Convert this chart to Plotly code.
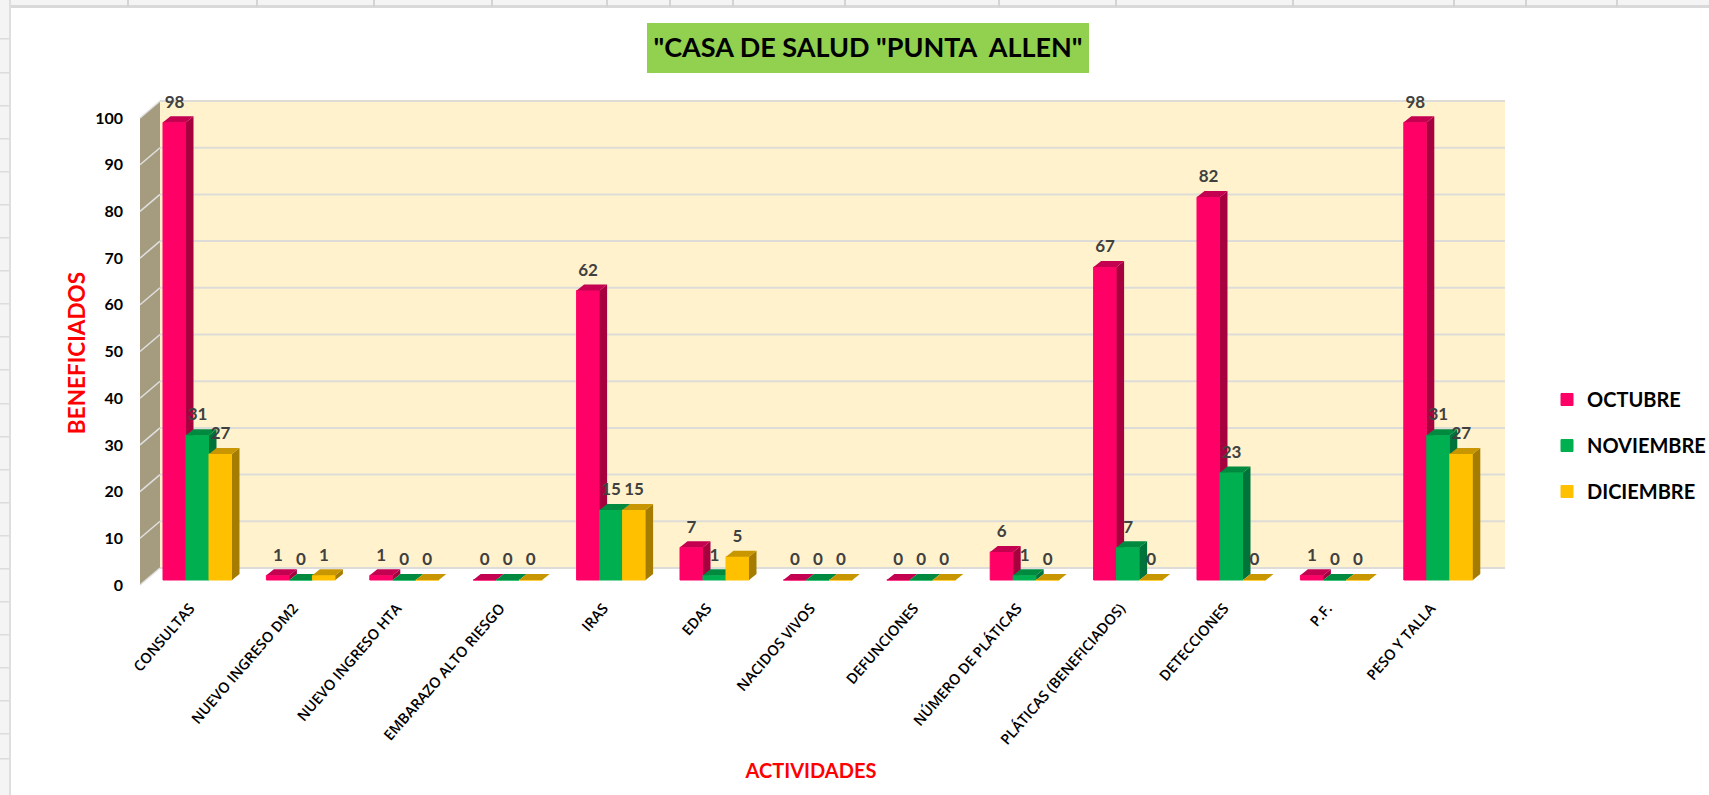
import plotly.graph_objects as go

categories = ["CONSULTAS", "NUEVO INGRESO DM2", "NUEVO INGRESO HTA", "EMBARAZO ALTO RIESGO", "IRAS", "EDAS",
              "NACIDOS VIVOS", "DEFUNCIONES", "NÚMERO DE PLÁTICAS", "PLÁTICAS (BENEFICIADOS)", "DETECCIONES",
              "P.F.", "PESO Y TALLA"]
octubre = [98, 1, 1, 0, 62, 7, 0, 0, 6, 67, 82, 1, 98]
noviembre = [31, 0, 0, 0, 15, 1, 0, 0, 1, 7, 23, 0, 31]
diciembre = [27, 1, 0, 0, 15, 5, 0, 0, 0, 0, 0, 0, 27]
y_ticks = [0, 10, 20, 30, 40, 50, 60, 70, 80, 90, 100]

W, H = 1709, 795
L, R, T, B = 115, 1507, 99, 607       # plot area in page pixels
PX_X, PX_Y = 103.4, 4.67              # pixels per category / per value
X0_PX, Y0_PX = 197.5, 580             # page position of category 0 / value 0
x_range = [(L - X0_PX) / PX_X, (R - X0_PX) / PX_X]
y_range = [(Y0_PX - B) / PX_Y, (Y0_PX - T) / PX_Y]

BAR_W = 23 / PX_X
DX, DY = 7.5 / PX_X, 6 / PX_Y
FRONT_Y = -5 / PX_Y                   # depth offsets of the chart box
BACK_Y = 12 / PX_Y
WALL_X0, WALL_X1 = (140 - X0_PX) / PX_X, (160 - X0_PX) / PX_X
BACK_X1 = (1505 - X0_PX) / PX_X
TICK_SHIFT = -7.5 / PX_X

series = [
    ("OCTUBRE", octubre, "#FF0066", "#A6003F", "#C40051", -1, "", ""),
    ("NOVIEMBRE", noviembre, "#00B050", "#00733A", "#008A40", 0, "2", "2"),
    ("DICIEMBRE", diciembre, "#FFC000", "#A67C00", "#C79600", 1, "3", "3"),
]

fig = go.Figure()
label_x, label_y, label_t = [], [], []
for name, vals, front, side, top, k, xa, ya in series:
    xs = [i + k * BAR_W for i in range(len(vals))]
    fig.add_trace(go.Bar(x=xs, y=vals, width=BAR_W, name=name, marker=dict(color=front, line=dict(width=1, color=front)),
                         legendgroup=name, xaxis="x" + xa, yaxis="y" + ya, hoverinfo="x+y"))
    sx, sy, tx, ty = [], [], [], []
    for x, v in zip(xs, vals):
        x0, x1 = x - BAR_W / 2, x + BAR_W / 2
        sx += [x1, x1 + DX, x1 + DX, x1, None]
        sy += [0, DY, v + DY, v, None]
        tx += [x0, x0 + DX, x1 + DX, x1, None]
        ty += [v, v + DY, v + DY, v, None]
        label_x.append(x)
        label_y.append(v + 19 / PX_Y)
        label_t.append(str(v))
    for px_, py_, col in ((sx, sy, side), (tx, ty, top)):
        fig.add_trace(go.Scatter(x=px_, y=py_, mode="lines", fill="toself", fillcolor=col, line=dict(width=0),
                                 showlegend=False, hoverinfo="skip", xaxis="x" + xa, yaxis="y" + ya))

fig.add_trace(go.Scatter(x=label_x, y=label_y, text=label_t, mode="text", showlegend=False, hoverinfo="skip",
                         textfont=dict(family="Lato", size=17, color="#404040", weight=700), cliponaxis=False,
                         xaxis="x3", yaxis="y3"))

shapes = []
def px(v): return (v - L) / (R - L)
def py(v): return (B - v) / (B - T)
def page_rect(x0, y0, x1, y1, color):
    shapes.append(dict(type="rect", xref="paper", yref="paper", x0=px(x0), x1=px(x1), y0=py(y0), y1=py(y1),
                       fillcolor=color, line_width=0, layer="below"))

# spreadsheet behind the chart
page_rect(0, 0, W, 5, "#F4F4F4")
page_rect(0, 5, W, 8, "#D9D9D9")
page_rect(0, 0, 9, H, "#F4F4F4")
page_rect(9, 0, 11, H, "#DEDEDE")
for vx in [127, 256, 373, 491, 606, 669, 732, 844, 998, 1115, 1292, 1453, 1525, 1616]:
    page_rect(vx, 0, vx + 2, 7, "#D4D4D4")
for hy in [38, 72, 105, 138, 171, 204, 237, 270, 303, 336, 369, 403, 436, 469, 502, 535, 568, 601, 634, 667, 700, 733, 758]:
    page_rect(0, hy, 9, hy + 1.5, "#DCDCDC")
page_rect(647, 23, 1089, 73, "#92D050")

# box of the 3-D chart
shapes.append(dict(type="rect", xref="x", yref="y", x0=WALL_X1, x1=BACK_X1, y0=BACK_Y, y1=100 + BACK_Y,
                   fillcolor="#FFF2CC", line_width=0, layer="below"))
shapes.append(dict(type="path", xref="x", yref="y", layer="below", fillcolor="#A59C80", line_width=0,
                   path=f"M{WALL_X0},{FRONT_Y} L{WALL_X1},{BACK_Y} L{WALL_X1},{100 + BACK_Y} L{WALL_X0},{100 + FRONT_Y} Z"))
for v in y_ticks:
    shapes.append(dict(type="line", xref="x", yref="y", x0=WALL_X1, x1=BACK_X1, y0=v + BACK_Y, y1=v + BACK_Y,
                       line=dict(color="#DEDCD8", width=2), layer="below"))
    shapes.append(dict(type="line", xref="x", yref="y", x0=WALL_X0, x1=WALL_X1, y0=v + FRONT_Y, y1=v + BACK_Y,
                       line=dict(color="#E0E0E0", width=1.5), layer="below"))

hidden = dict(visible=False, range=x_range, fixedrange=True)
hidden_y = dict(visible=False, range=y_range, fixedrange=True)
fig.update_layout(
    width=W, height=H, autosize=False,
    margin=dict(l=L, r=W - R, t=T, b=H - B, autoexpand=False),
    paper_bgcolor="white", plot_bgcolor="rgba(0,0,0,0)",
    barmode="overlay", shapes=shapes, showlegend=True,
    font=dict(family="Lato"),
    title=dict(text='"CASA DE SALUD "PUNTA  ALLEN"', x=868 / W, y=1 - 48 / H, xanchor="center", yanchor="middle",
               xref="container", yref="container", font=dict(family="Lato", size=27, color="black", weight=700)),
    xaxis=dict(range=x_range, tickmode="array", tickvals=[i + TICK_SHIFT for i in range(len(categories))], ticktext=categories,
               tickangle=-49, showgrid=False, zeroline=False, showline=False, ticks="", fixedrange=True,
               ticklabelstandoff=-11, tickfont=dict(family="Open Sans", size=14.5, color="black", weight=600),
               title=dict(text="ACTIVIDADES", standoff=16, font=dict(family="Lato", size=20, color="#FF0000", weight=700))),
    yaxis=dict(range=y_range, tickmode="array", tickvals=[v + FRONT_Y for v in y_ticks], ticktext=[str(v) for v in y_ticks],
               showgrid=False, zeroline=False, showline=False, ticks="", fixedrange=True,
               ticklabelstandoff=-9, tickfont=dict(family="Lato", size=16, color="black", weight=700),
               title=dict(text="BENEFICIADOS", standoff=3, font=dict(family="Lato", size=22.5, color="#FF0000", weight=700))),
    xaxis2=dict(overlaying="x", **hidden), yaxis2=dict(overlaying="y", **hidden_y),
    xaxis3=dict(overlaying="x", **hidden), yaxis3=dict(overlaying="y", **hidden_y),
    legend=dict(x=(1587 - 40 - L) / (R - L), y=py(380), xanchor="left", yanchor="top", traceorder="grouped",
                tracegroupgap=17, bgcolor="rgba(0,0,0,0)", font=dict(family="Lato", size=20, color="black", weight=700)),
)

fig.write_html("out.html", config=dict(displayModeBar=False),
               post_script="document.body.style.margin='0';document.body.style.overflow='hidden';")
